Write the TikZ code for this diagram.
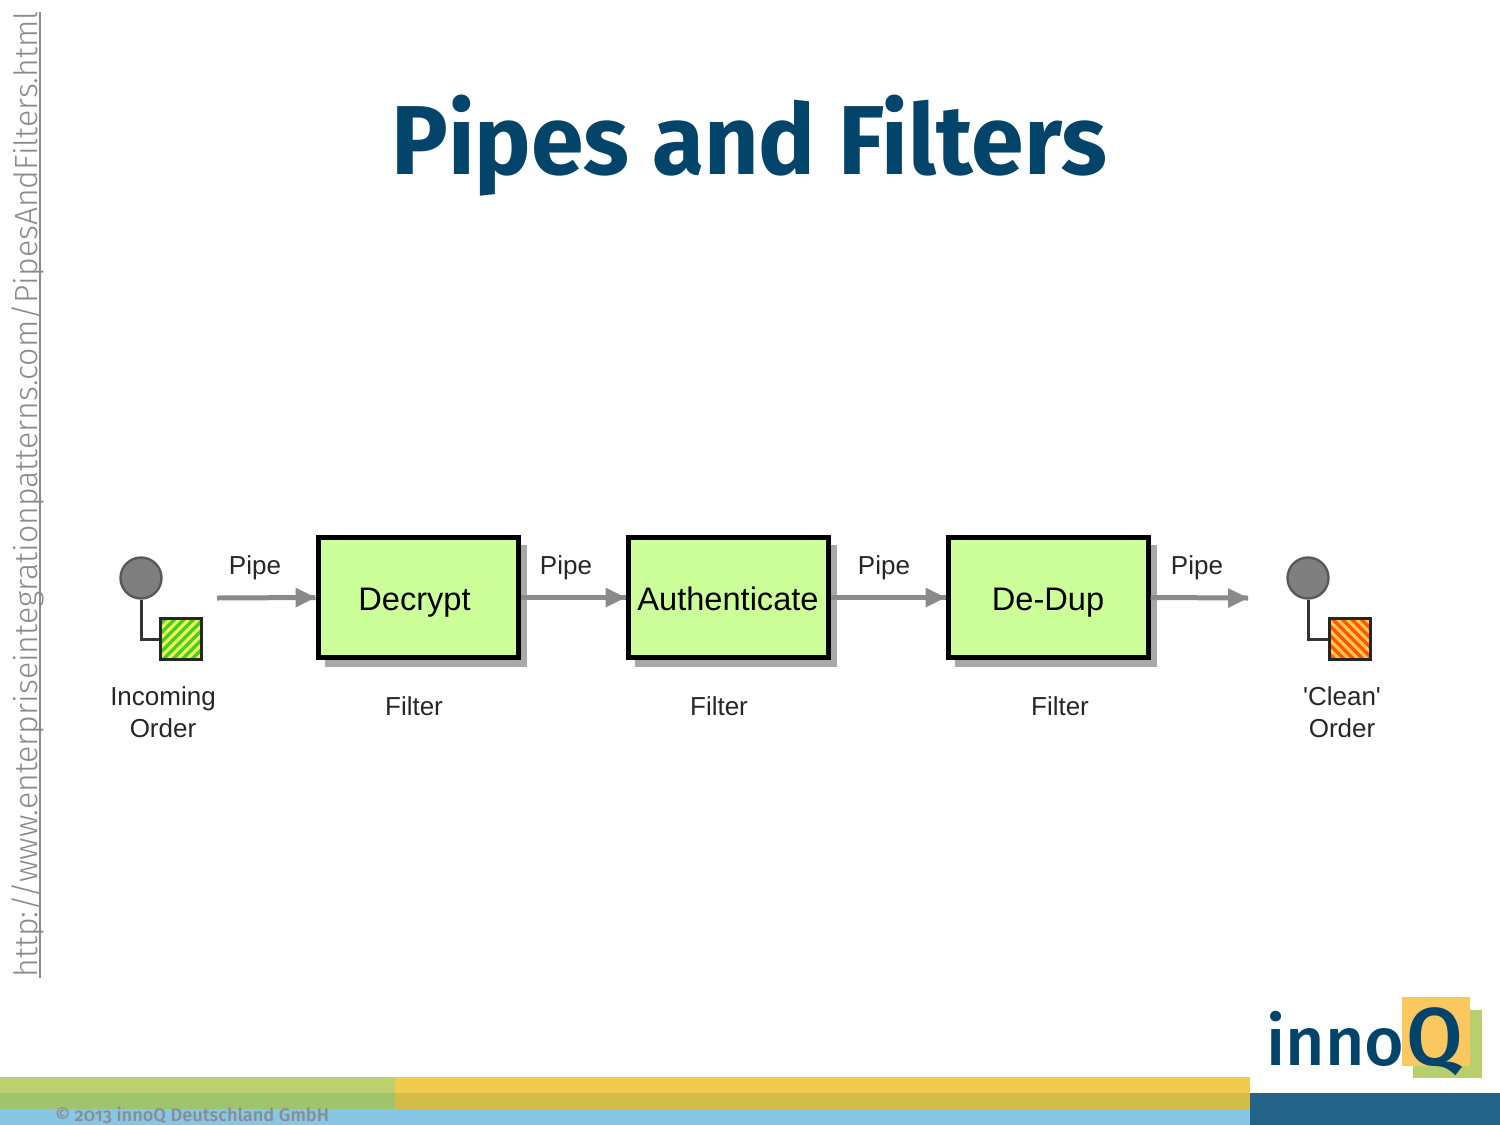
\documentclass[tikz,border=0pt]{standalone}
\usepackage{fontspec}
\setmainfont{Fira Sans}
\newfontfamily\diagfont{Liberation Sans}
\newfontfamily\titlefont{Fira Sans Bold}
\newfontfamily\logofont{Fira Sans Medium}
\newfontfamily\urlfont{Fira Sans Light}
\newfontfamily\footfont[Numbers=OldStyle]{Fira Sans Medium}
\definecolor{titleblue}{HTML}{03446B}
\definecolor{boxgreen}{HTML}{CCFF99}
\definecolor{arrowgray}{HTML}{8A8A8A}
\definecolor{ballgray}{HTML}{7F7F7F}
\definecolor{shadowgray}{HTML}{A8A8A8}
\definecolor{footA}{HTML}{BDD070}
\definecolor{footB}{HTML}{A0C46B}
\definecolor{footC}{HTML}{F0CB4D}
\definecolor{footD}{HTML}{D3BC47}
\definecolor{footE}{HTML}{87C6E5}
\definecolor{footF}{HTML}{246489}
\definecolor{logoO}{HTML}{FBC85F}
\definecolor{logoG}{HTML}{B9CF6E}
\definecolor{stripeG}{HTML}{44CC33}
\definecolor{stripeY}{HTML}{F4F44A}
\definecolor{stripeR}{HTML}{FF5511}
\definecolor{stripeO}{HTML}{FFCC44}
\tikzset{
  x=0.5pt,y=-0.5pt,
  filterbox/.style={draw=black,line width=2.5pt,fill=boxgreen,minimum width=100pt,minimum height=60pt,inner sep=0pt,text height=13pt,text depth=0pt,font=\diagfont\fontsize{16.3}{18}\selectfont},
  lab/.style={font=\diagfont\fontsize{13}{16}\selectfont,text=black!85,align=center,inner sep=0pt},
  pipe/.style={draw=arrowgray,line width=2.5pt},
  ball/.style={circle,draw=black!65,line width=1.2pt,fill=ballgray,minimum size=20.5pt,inner sep=0pt},
  msg/.style={draw=black!85,line width=1.3pt,minimum size=20.5pt,inner sep=0pt},
  stem/.style={draw=black!80,line width=1.5pt},
}
\newcommand{\pipehead}[1]{\fill[arrowgray] (#1) -- ++(-20,-10) -- ++(0,20) -- cycle;}
\begin{document}
\begin{tikzpicture}
\useasboundingbox (0,0) rectangle (1500,1125);
% footer
\fill[footA] (0,1077) rectangle (395,1093);
\fill[footB] (0,1093) rectangle (395,1109);
\fill[footC] (395,1077) rectangle (1250,1093);
\fill[footD] (395,1093) rectangle (1250,1109);
\fill[footE] (0,1109) rectangle (1250,1125);
\fill[footF] (1250,1093) rectangle (1500,1125);
\node[anchor=base west,inner sep=0pt,text=black!45,font=\footfont\fontsize{9.1}{10}\selectfont] (copy) at (55,1121) {© 2013 innoQ Deutschland GmbH};
% logo
\fill[logoG] (1413,1010) rectangle (1482,1078);
\fill[logoO] (1402,997) rectangle (1470,1066);
\node[anchor=base west,inner sep=0pt,text=titleblue,font=\logofont\fontsize{34}{40}\selectfont] (logo) at (1266,1065) {inno\kern1pt{\fontsize{41}{44}\selectfont Q}};
% title
\node[anchor=base,inner sep=0pt,xscale=0.968,text=titleblue,font=\titlefont\fontsize{49}{56}\selectfont] (title) at (749,174) {Pipes and Filters};
% side url
\node[rotate=90,anchor=base west,inner sep=0pt,text=arrowgray,font=\urlfont\fontsize{16.05}{18}\selectfont] (url) at (37,978) {http://www.enterpriseintegrationpatterns.com/PipesAndFilters.html};
\draw[arrowgray,line width=1pt] (39.5,978) -- (39.5,12);
% shadows
\fill[shadowgray] (325,545) rectangle (527,667);
\fill[shadowgray] (635,545) rectangle (837,667);
\fill[shadowgray] (955,545) rectangle (1157,667);
% boxes
\node[filterbox] (f1) at (418,597.5) {Decrypt\kern3.5pt};
\node[filterbox] (f2) at (728,597.5) {Authenticate};
\node[filterbox] (f3) at (1048,597.5) {De-Dup};
% end points
\node[ball] (b1) at (141,578) {};
\node[ball] (b2) at (1308,578) {};
\node[msg,fill=stripeY] (m1) at (181,639) {};
\node[msg,fill=stripeO] (m2) at (1350,639) {};
\begin{scope}
\clip ([shift={(1,-1)}]m1.south west) rectangle ([shift={(-1,1)}]m1.north east);
\foreach \i in {-45,-35.5,...,45} \draw[stripeG,line width=1.7pt] (181+\i-25,664) -- (181+\i+25,614);
\end{scope}
\begin{scope}
\clip ([shift={(1,-1)}]m2.south west) rectangle ([shift={(-1,1)}]m2.north east);
\foreach \i in {-45,-35.5,...,45} \draw[stripeR,line width=1.7pt] (1350+\i-25,614) -- (1350+\i+25,664);
\end{scope}
\node[msg] at (m1) {};
\node[msg] at (m2) {};
\draw[stem] (b1.south) |- (m1.west);
\draw[stem] (b2.south) |- (m2.west);
% pipes
\coordinate (p0) at (217,598);
\coordinate (p3end) at (1248,598);
\draw[pipe] (p0) -- (f1.west);
\draw[pipe] (f1.east) -- (f2.west);
\draw[pipe] (f2.east) -- (f3.west);
\draw[pipe] (f3.east) -- (p3end);
\pipehead{f1.west}
\pipehead{f2.west}
\pipehead{f3.west}
\pipehead{p3end}
% labels
\node[lab] (l1) at (255,567.5) {Pipe};
\node[lab] (l2) at (566,567.5) {Pipe};
\node[lab] (l3) at (884,567.5) {Pipe};
\node[lab] (l4) at (1197,567.5) {Pipe};
\node[lab] (t1) at (163,712) {Incoming\\Order};
\node[lab] (t2) at (1342,712) {'Clean'\\Order};
\node[lab] (t3) at (414,706) {Filter};
\node[lab] (t4) at (719,706) {Filter};
\node[lab] (t5) at (1060,706) {Filter};
\end{tikzpicture}
\end{document}
